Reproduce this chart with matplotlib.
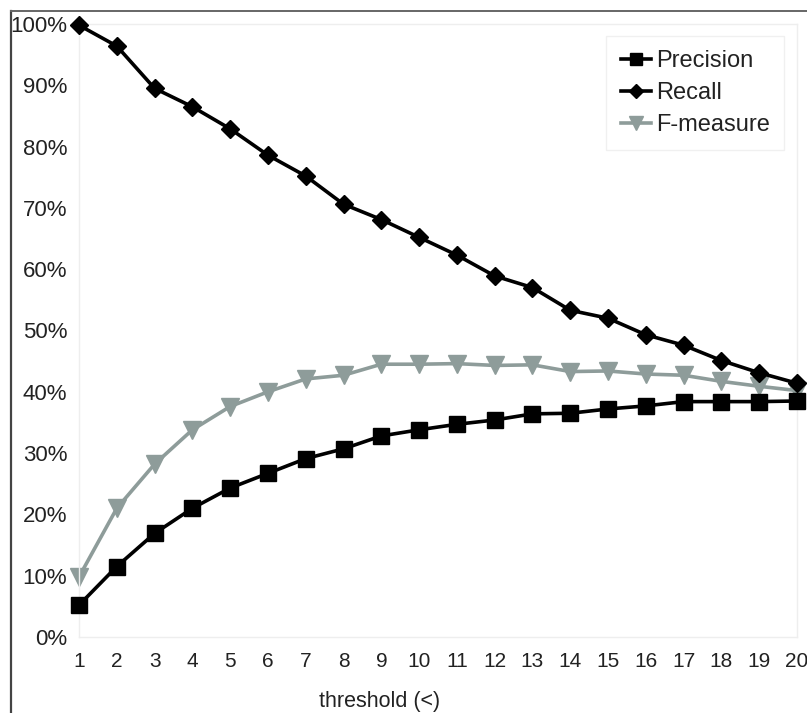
import matplotlib.pyplot as plt
from matplotlib.lines import Line2D
from matplotlib.ticker import PercentFormatter

plt.rcParams['font.family'] = ['Liberation Sans', 'DejaVu Sans']

# valores (en %)
thresholds = list(range(1, 21))
precision = [5.2, 11.5, 16.9, 21.0, 24.3, 26.7, 29.1, 30.7, 32.8, 33.8,
             34.7, 35.4, 36.4, 36.5, 37.2, 37.7, 38.4, 38.4, 38.4, 38.5]
recall = [99.8, 96.4, 89.5, 86.5, 82.9, 78.6, 75.2, 70.6, 68.1, 65.2,
          62.3, 58.9, 57.0, 53.3, 52.0, 49.3, 47.6, 45.1, 43.1, 41.4]
f_measure = [9.8, 21.0, 28.2, 33.8, 37.6, 40.0, 42.1, 42.7, 44.5, 44.5,
             44.6, 44.3, 44.4, 43.3, 43.4, 42.9, 42.7, 41.7, 40.9, 40.2]
y_ticks = list(range(0, 101, 10))

fig = plt.figure(figsize=(8.07, 7.13), dpi=100)
ax = fig.add_axes([79/807, 1 - 637/713, 718/807, 613/713])

grey = "#8E9C9A"
ax.plot(thresholds, precision, color="black", lw=2.6, marker="s",
        ms=12, mec="black", label="Precision", zorder=3)
ax.plot(thresholds, recall, color="black", lw=2.6, marker="D",
        ms=9, mec="black", label="Recall", zorder=4)
ax.plot(thresholds, f_measure, color=grey, lw=2.6, marker="v",
        ms=13, mec=grey, label="F-measure", zorder=2)

ax.set_xlim(1, 20)
ax.set_ylim(0, 100)
ax.set_xticks(thresholds)
ax.set_yticks(y_ticks)
ax.yaxis.set_major_formatter(PercentFormatter(decimals=0))
ax.tick_params(axis="both", length=0, colors="#222222")
ax.tick_params(axis="x", pad=11, labelsize=15)
ax.tick_params(axis="y", pad=8.5, labelsize=16)
for spine in ax.spines.values():
    spine.set_color("#eeeeee")
    spine.set_linewidth(1)
for line in ax.lines:
    line.set_clip_on(False)

ax.set_xlabel("threshold (<)", fontsize=15.5, color="#222222")
ax.xaxis.set_label_coords((380 - 79) / 718, -(702 - 637) / 613)
ax.xaxis.label.set_va("center")

leg = ax.legend(loc="upper right", bbox_to_anchor=((784 - 79) / 718, 1 - (36 - 24) / 613),
                fontsize=17, handlelength=1.3, handletextpad=0.2,
                labelspacing=0.42, borderpad=0.6, borderaxespad=0,
                markerscale=0.75, fancybox=False,
                framealpha=1, edgecolor="#f0f0f0")
for t in leg.get_texts():
    t.set_color("#222222")

# marco exterior
fig.add_artist(Line2D([11/807, 11/807], [0, 1 - 11/713], color="#444444", lw=1.6))
fig.add_artist(Line2D([11/807, 1], [1 - 11/713, 1 - 11/713], color="#666666", lw=1.4))

plt.savefig("out.png", dpi=100)
